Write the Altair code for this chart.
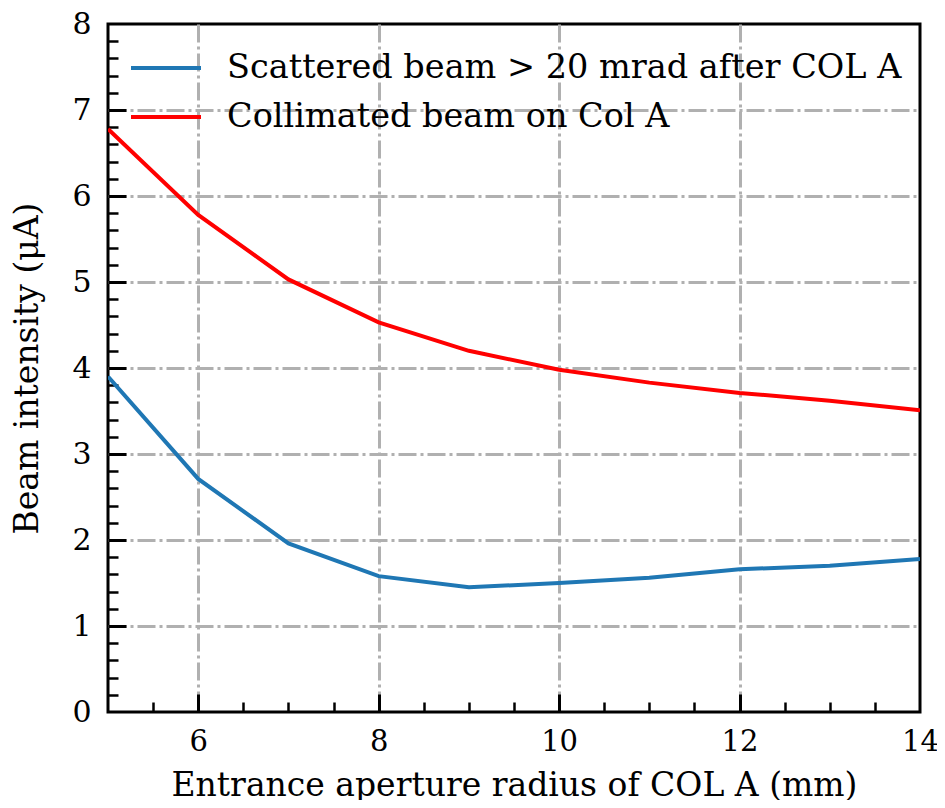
import altair as alt
import pandas as pd

radius = [5, 6, 7, 8, 9, 10, 11, 12, 13, 14]
scattered = [3.90, 2.71, 1.96, 1.58, 1.45, 1.50, 1.56, 1.66, 1.70, 1.78]
collimated = [6.78, 5.78, 5.03, 4.53, 4.20, 3.98, 3.83, 3.71, 3.62, 3.51]
series_names = ["Scattered beam > 20 mrad after COL A", "Collimated beam on Col A"]
series_colors = ["#1f77b4", "#ff0000"]

x_labels = [6, 8, 10, 12, 14]
x_grid = [6, 8, 10, 12]
x_minor = [5.5, 6.5, 7, 7.5, 8.5, 9, 9.5, 10.5, 11, 11.5, 12.5, 13, 13.5]
y_labels = [0, 1, 2, 3, 4, 5, 6, 7, 8]
y_grid = [1, 2, 3, 4, 5, 6, 7]
y_minor = [round(i * 0.2, 1) for i in range(1, 40) if i % 5 != 0]

rows = []
for r, s, c in zip(radius, scattered, collimated):
    rows.append({"radius": r, "value": s, "series": series_names[0]})
    rows.append({"radius": r, "value": c, "series": series_names[1]})
df = pd.DataFrame(rows)

FONT = "DejaVu Serif"
xs = alt.Scale(domain=[5, 14], nice=False, zero=False)
ys = alt.Scale(domain=[0, 8], nice=False)
dash = [18, 4, 3, 4]

lines = alt.Chart(df).mark_line(strokeWidth=4, clip=True).encode(
    x=alt.X("radius:Q", scale=xs, axis=alt.Axis(
        orient="bottom", values=x_labels, ticks=False, domain=False, grid=False,
        labelFont=FONT, labelFontSize=29, labelColor="black", labelPadding=15,
        labelFlush=False, labelOverlap=False, format="d",
        title="Entrance aperture radius of COL A (mm)", titleFont=FONT,
        titleFontSize=33, titleFontWeight="normal", titleColor="black",
        titlePadding=13)),
    y=alt.Y("value:Q", scale=ys, axis=alt.Axis(
        orient="left", values=y_labels, ticks=False, domain=False, grid=False,
        labelFont=FONT, labelFontSize=30, labelColor="black", labelPadding=17,
        labelFlush=False, labelOverlap=False, format="d",
        title="Beam intensity (μA)", titleFont=FONT, titleFontSize=33,
        titleFontWeight="normal", titleColor="black", titlePadding=27)),
    color=alt.Color("series:N", sort=series_names,
                    scale=alt.Scale(domain=series_names, range=series_colors),
                    legend=alt.Legend(
                        orient="none", legendX=21, legendY=24, title=None,
                        symbolType="stroke", symbolSize=4900, symbolStrokeWidth=4,
                        labelFont=FONT, labelFontSize=33.5, labelColor="black",
                        labelOffset=24, labelLimit=0, padding=0, rowPadding=9,
                        clipHeight=40)),
)

grid = alt.Chart(df).mark_point(opacity=0).encode(
    x=alt.X("radius:Q", scale=xs, axis=alt.Axis(
        orient="bottom", values=x_grid, ticks=False, domain=False, labels=False,
        grid=True, gridColor="#b0b0b0", gridWidth=3, gridDash=dash, gridOpacity=1,
        title=None)),
    y=alt.Y("value:Q", scale=ys, axis=alt.Axis(
        orient="left", values=y_grid, ticks=False, domain=False, labels=False,
        grid=True, gridColor="#b0b0b0", gridWidth=3, gridDash=dash, gridOpacity=1,
        title=None)),
)

major = alt.Chart(df).mark_point(opacity=0).encode(
    x=alt.X("radius:Q", scale=xs, axis=alt.Axis(
        orient="bottom", values=x_grid, offset=-18, tickSize=18, tickWidth=3,
        tickColor="black", domain=False, labels=False, grid=False, title=None)),
    y=alt.Y("value:Q", scale=ys, axis=alt.Axis(
        orient="left", values=y_grid, offset=-18, tickSize=18, tickWidth=3,
        tickColor="black", domain=False, labels=False, grid=False, title=None)),
)

minor = alt.Chart(df).mark_point(opacity=0).encode(
    x=alt.X("radius:Q", scale=xs, axis=alt.Axis(
        orient="bottom", values=x_minor, offset=-10, tickSize=10, tickWidth=2.5,
        tickColor="black", domain=False, labels=False, grid=False, title=None)),
    y=alt.Y("value:Q", scale=ys, axis=alt.Axis(
        orient="left", values=y_minor, offset=-10, tickSize=10, tickWidth=2.5,
        tickColor="black", domain=False, labels=False, grid=False, title=None)),
)

chart = alt.layer(grid, major, minor, lines).resolve_axis(
    x="independent", y="independent"
).properties(
    width=812, height=688,
    background="white",
    autosize=alt.AutoSizeParams(type="none"),
    padding={"left": 100, "top": 16, "right": 17, "bottom": 88},
).configure_view(stroke="black", strokeWidth=3)

chart.save("out.html", embed_options={"renderer": "svg", "actions": False})
